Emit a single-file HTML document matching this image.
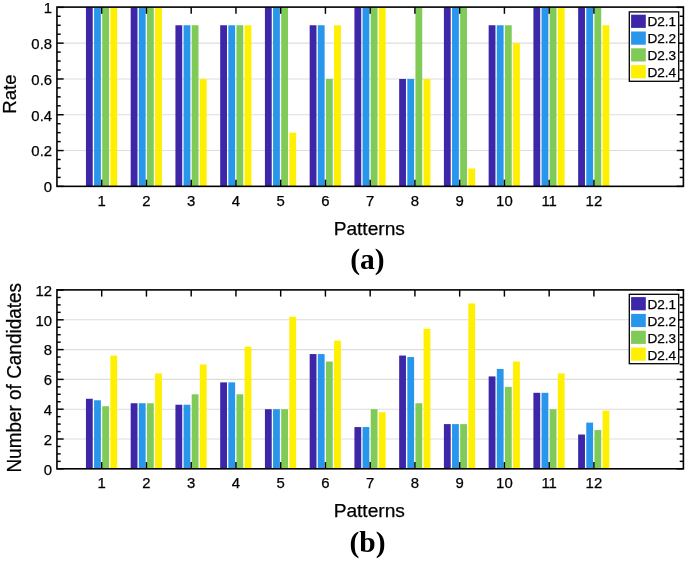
<!DOCTYPE html>
<html><head><meta charset="utf-8"><title>Figure</title>
<style>html,body{margin:0;padding:0;background:#fff;}svg{display:block;}text{font-family:"Liberation Sans",sans-serif;fill:#000;}</style>
</head><body>
<svg width="685" height="561" viewBox="0 0 685 561">
<rect width="685" height="561" fill="#fff"/>
<line x1="56.95" x2="683.4" y1="150.55" y2="150.55" stroke="#dddddd" stroke-width="1.1"/>
<line x1="56.95" x2="683.4" y1="114.75" y2="114.75" stroke="#dddddd" stroke-width="1.1"/>
<line x1="56.95" x2="683.4" y1="78.95" y2="78.95" stroke="#dddddd" stroke-width="1.1"/>
<line x1="56.95" x2="683.4" y1="43.15" y2="43.15" stroke="#dddddd" stroke-width="1.1"/>
<rect x="85.94" y="7.35" width="6.81" height="179.00" fill="#3E26A8"/>
<rect x="94.07" y="7.35" width="6.81" height="179.00" fill="#2796EB"/>
<rect x="102.21" y="7.35" width="6.81" height="179.00" fill="#80CB58"/>
<rect x="110.35" y="7.35" width="6.81" height="179.00" fill="#FFEF00"/>
<rect x="130.68" y="7.35" width="6.81" height="179.00" fill="#3E26A8"/>
<rect x="138.82" y="7.35" width="6.81" height="179.00" fill="#2796EB"/>
<rect x="146.96" y="7.35" width="6.81" height="179.00" fill="#80CB58"/>
<rect x="155.09" y="7.35" width="6.81" height="179.00" fill="#FFEF00"/>
<rect x="175.43" y="25.25" width="6.81" height="161.10" fill="#3E26A8"/>
<rect x="183.57" y="25.25" width="6.81" height="161.10" fill="#2796EB"/>
<rect x="191.70" y="25.25" width="6.81" height="161.10" fill="#80CB58"/>
<rect x="199.84" y="78.95" width="6.81" height="107.40" fill="#FFEF00"/>
<rect x="220.18" y="25.25" width="6.81" height="161.10" fill="#3E26A8"/>
<rect x="228.31" y="25.25" width="6.81" height="161.10" fill="#2796EB"/>
<rect x="236.45" y="25.25" width="6.81" height="161.10" fill="#80CB58"/>
<rect x="244.58" y="25.25" width="6.81" height="161.10" fill="#FFEF00"/>
<rect x="264.92" y="7.35" width="6.81" height="179.00" fill="#3E26A8"/>
<rect x="273.06" y="7.35" width="6.81" height="179.00" fill="#2796EB"/>
<rect x="281.20" y="7.35" width="6.81" height="179.00" fill="#80CB58"/>
<rect x="289.33" y="132.65" width="6.81" height="53.70" fill="#FFEF00"/>
<rect x="309.67" y="25.25" width="6.81" height="161.10" fill="#3E26A8"/>
<rect x="317.81" y="25.25" width="6.81" height="161.10" fill="#2796EB"/>
<rect x="325.94" y="78.95" width="6.81" height="107.40" fill="#80CB58"/>
<rect x="334.08" y="25.25" width="6.81" height="161.10" fill="#FFEF00"/>
<rect x="354.42" y="7.35" width="6.81" height="179.00" fill="#3E26A8"/>
<rect x="362.55" y="7.35" width="6.81" height="179.00" fill="#2796EB"/>
<rect x="370.69" y="7.35" width="6.81" height="179.00" fill="#80CB58"/>
<rect x="378.82" y="7.35" width="6.81" height="179.00" fill="#FFEF00"/>
<rect x="399.16" y="78.95" width="6.81" height="107.40" fill="#3E26A8"/>
<rect x="407.30" y="78.95" width="6.81" height="107.40" fill="#2796EB"/>
<rect x="415.43" y="7.35" width="6.81" height="179.00" fill="#80CB58"/>
<rect x="423.57" y="78.95" width="6.81" height="107.40" fill="#FFEF00"/>
<rect x="443.91" y="7.35" width="6.81" height="179.00" fill="#3E26A8"/>
<rect x="452.05" y="7.35" width="6.81" height="179.00" fill="#2796EB"/>
<rect x="460.18" y="7.35" width="6.81" height="179.00" fill="#80CB58"/>
<rect x="468.32" y="168.45" width="6.81" height="17.90" fill="#FFEF00"/>
<rect x="488.66" y="25.25" width="6.81" height="161.10" fill="#3E26A8"/>
<rect x="496.79" y="25.25" width="6.81" height="161.10" fill="#2796EB"/>
<rect x="504.93" y="25.25" width="6.81" height="161.10" fill="#80CB58"/>
<rect x="513.06" y="43.15" width="6.81" height="143.20" fill="#FFEF00"/>
<rect x="533.40" y="7.35" width="6.81" height="179.00" fill="#3E26A8"/>
<rect x="541.54" y="7.35" width="6.81" height="179.00" fill="#2796EB"/>
<rect x="549.67" y="7.35" width="6.81" height="179.00" fill="#80CB58"/>
<rect x="557.81" y="7.35" width="6.81" height="179.00" fill="#FFEF00"/>
<rect x="578.15" y="7.35" width="6.81" height="179.00" fill="#3E26A8"/>
<rect x="586.28" y="7.35" width="6.81" height="179.00" fill="#2796EB"/>
<rect x="594.42" y="7.35" width="6.81" height="179.00" fill="#80CB58"/>
<rect x="602.56" y="25.25" width="6.81" height="161.10" fill="#FFEF00"/>
<rect x="56.95" y="7.1" width="626.45" height="179.25" fill="none" stroke="#000" stroke-width="1.6"/>
<line x1="101.70" x2="101.70" y1="186.35" y2="179.65" stroke="#000" stroke-width="1.45"/>
<line x1="101.70" x2="101.70" y1="7.1" y2="13.80" stroke="#000" stroke-width="1.45"/>
<text x="101.70" y="205.75" text-anchor="middle" font-size="14.9" stroke="#000" stroke-width="0.25" >1</text>
<line x1="146.44" x2="146.44" y1="186.35" y2="179.65" stroke="#000" stroke-width="1.45"/>
<line x1="146.44" x2="146.44" y1="7.1" y2="13.80" stroke="#000" stroke-width="1.45"/>
<text x="146.44" y="205.75" text-anchor="middle" font-size="14.9" stroke="#000" stroke-width="0.25" >2</text>
<line x1="191.19" x2="191.19" y1="186.35" y2="179.65" stroke="#000" stroke-width="1.45"/>
<line x1="191.19" x2="191.19" y1="7.1" y2="13.80" stroke="#000" stroke-width="1.45"/>
<text x="191.19" y="205.75" text-anchor="middle" font-size="14.9" stroke="#000" stroke-width="0.25" >3</text>
<line x1="235.94" x2="235.94" y1="186.35" y2="179.65" stroke="#000" stroke-width="1.45"/>
<line x1="235.94" x2="235.94" y1="7.1" y2="13.80" stroke="#000" stroke-width="1.45"/>
<text x="235.94" y="205.75" text-anchor="middle" font-size="14.9" stroke="#000" stroke-width="0.25" >4</text>
<line x1="280.68" x2="280.68" y1="186.35" y2="179.65" stroke="#000" stroke-width="1.45"/>
<line x1="280.68" x2="280.68" y1="7.1" y2="13.80" stroke="#000" stroke-width="1.45"/>
<text x="280.68" y="205.75" text-anchor="middle" font-size="14.9" stroke="#000" stroke-width="0.25" >5</text>
<line x1="325.43" x2="325.43" y1="186.35" y2="179.65" stroke="#000" stroke-width="1.45"/>
<line x1="325.43" x2="325.43" y1="7.1" y2="13.80" stroke="#000" stroke-width="1.45"/>
<text x="325.43" y="205.75" text-anchor="middle" font-size="14.9" stroke="#000" stroke-width="0.25" >6</text>
<line x1="370.17" x2="370.17" y1="186.35" y2="179.65" stroke="#000" stroke-width="1.45"/>
<line x1="370.17" x2="370.17" y1="7.1" y2="13.80" stroke="#000" stroke-width="1.45"/>
<text x="370.17" y="205.75" text-anchor="middle" font-size="14.9" stroke="#000" stroke-width="0.25" >7</text>
<line x1="414.92" x2="414.92" y1="186.35" y2="179.65" stroke="#000" stroke-width="1.45"/>
<line x1="414.92" x2="414.92" y1="7.1" y2="13.80" stroke="#000" stroke-width="1.45"/>
<text x="414.92" y="205.75" text-anchor="middle" font-size="14.9" stroke="#000" stroke-width="0.25" >8</text>
<line x1="459.67" x2="459.67" y1="186.35" y2="179.65" stroke="#000" stroke-width="1.45"/>
<line x1="459.67" x2="459.67" y1="7.1" y2="13.80" stroke="#000" stroke-width="1.45"/>
<text x="459.67" y="205.75" text-anchor="middle" font-size="14.9" stroke="#000" stroke-width="0.25" >9</text>
<line x1="504.41" x2="504.41" y1="186.35" y2="179.65" stroke="#000" stroke-width="1.45"/>
<line x1="504.41" x2="504.41" y1="7.1" y2="13.80" stroke="#000" stroke-width="1.45"/>
<text x="504.41" y="205.75" text-anchor="middle" font-size="14.9" stroke="#000" stroke-width="0.25" >10</text>
<line x1="549.16" x2="549.16" y1="186.35" y2="179.65" stroke="#000" stroke-width="1.45"/>
<line x1="549.16" x2="549.16" y1="7.1" y2="13.80" stroke="#000" stroke-width="1.45"/>
<text x="549.16" y="205.75" text-anchor="middle" font-size="14.9" stroke="#000" stroke-width="0.25" >11</text>
<line x1="593.91" x2="593.91" y1="186.35" y2="179.65" stroke="#000" stroke-width="1.45"/>
<line x1="593.91" x2="593.91" y1="7.1" y2="13.80" stroke="#000" stroke-width="1.45"/>
<text x="593.91" y="205.75" text-anchor="middle" font-size="14.9" stroke="#000" stroke-width="0.25" >12</text>
<line x1="56.95" x2="63.65" y1="186.35" y2="186.35" stroke="#000" stroke-width="1.45"/>
<line x1="683.4" x2="676.70" y1="186.35" y2="186.35" stroke="#000" stroke-width="1.45"/>
<text x="52.05" y="192.15" text-anchor="end" font-size="14.9" stroke="#000" stroke-width="0.25" >0</text>
<line x1="56.95" x2="60.65" y1="177.40" y2="177.40" stroke="#000" stroke-width="1.45"/>
<line x1="683.4" x2="679.70" y1="177.40" y2="177.40" stroke="#000" stroke-width="1.45"/>
<line x1="56.95" x2="60.65" y1="168.45" y2="168.45" stroke="#000" stroke-width="1.45"/>
<line x1="683.4" x2="679.70" y1="168.45" y2="168.45" stroke="#000" stroke-width="1.45"/>
<line x1="56.95" x2="60.65" y1="159.50" y2="159.50" stroke="#000" stroke-width="1.45"/>
<line x1="683.4" x2="679.70" y1="159.50" y2="159.50" stroke="#000" stroke-width="1.45"/>
<line x1="56.95" x2="63.65" y1="150.55" y2="150.55" stroke="#000" stroke-width="1.45"/>
<line x1="683.4" x2="676.70" y1="150.55" y2="150.55" stroke="#000" stroke-width="1.45"/>
<text x="52.05" y="156.35" text-anchor="end" font-size="14.9" stroke="#000" stroke-width="0.25" >0.2</text>
<line x1="56.95" x2="60.65" y1="141.60" y2="141.60" stroke="#000" stroke-width="1.45"/>
<line x1="683.4" x2="679.70" y1="141.60" y2="141.60" stroke="#000" stroke-width="1.45"/>
<line x1="56.95" x2="60.65" y1="132.65" y2="132.65" stroke="#000" stroke-width="1.45"/>
<line x1="683.4" x2="679.70" y1="132.65" y2="132.65" stroke="#000" stroke-width="1.45"/>
<line x1="56.95" x2="60.65" y1="123.70" y2="123.70" stroke="#000" stroke-width="1.45"/>
<line x1="683.4" x2="679.70" y1="123.70" y2="123.70" stroke="#000" stroke-width="1.45"/>
<line x1="56.95" x2="63.65" y1="114.75" y2="114.75" stroke="#000" stroke-width="1.45"/>
<line x1="683.4" x2="676.70" y1="114.75" y2="114.75" stroke="#000" stroke-width="1.45"/>
<text x="52.05" y="120.55" text-anchor="end" font-size="14.9" stroke="#000" stroke-width="0.25" >0.4</text>
<line x1="56.95" x2="60.65" y1="105.80" y2="105.80" stroke="#000" stroke-width="1.45"/>
<line x1="683.4" x2="679.70" y1="105.80" y2="105.80" stroke="#000" stroke-width="1.45"/>
<line x1="56.95" x2="60.65" y1="96.85" y2="96.85" stroke="#000" stroke-width="1.45"/>
<line x1="683.4" x2="679.70" y1="96.85" y2="96.85" stroke="#000" stroke-width="1.45"/>
<line x1="56.95" x2="60.65" y1="87.90" y2="87.90" stroke="#000" stroke-width="1.45"/>
<line x1="683.4" x2="679.70" y1="87.90" y2="87.90" stroke="#000" stroke-width="1.45"/>
<line x1="56.95" x2="63.65" y1="78.95" y2="78.95" stroke="#000" stroke-width="1.45"/>
<line x1="683.4" x2="676.70" y1="78.95" y2="78.95" stroke="#000" stroke-width="1.45"/>
<text x="52.05" y="84.75" text-anchor="end" font-size="14.9" stroke="#000" stroke-width="0.25" >0.6</text>
<line x1="56.95" x2="60.65" y1="70.00" y2="70.00" stroke="#000" stroke-width="1.45"/>
<line x1="683.4" x2="679.70" y1="70.00" y2="70.00" stroke="#000" stroke-width="1.45"/>
<line x1="56.95" x2="60.65" y1="61.05" y2="61.05" stroke="#000" stroke-width="1.45"/>
<line x1="683.4" x2="679.70" y1="61.05" y2="61.05" stroke="#000" stroke-width="1.45"/>
<line x1="56.95" x2="60.65" y1="52.10" y2="52.10" stroke="#000" stroke-width="1.45"/>
<line x1="683.4" x2="679.70" y1="52.10" y2="52.10" stroke="#000" stroke-width="1.45"/>
<line x1="56.95" x2="63.65" y1="43.15" y2="43.15" stroke="#000" stroke-width="1.45"/>
<line x1="683.4" x2="676.70" y1="43.15" y2="43.15" stroke="#000" stroke-width="1.45"/>
<text x="52.05" y="48.95" text-anchor="end" font-size="14.9" stroke="#000" stroke-width="0.25" >0.8</text>
<line x1="56.95" x2="60.65" y1="34.20" y2="34.20" stroke="#000" stroke-width="1.45"/>
<line x1="683.4" x2="679.70" y1="34.20" y2="34.20" stroke="#000" stroke-width="1.45"/>
<line x1="56.95" x2="60.65" y1="25.25" y2="25.25" stroke="#000" stroke-width="1.45"/>
<line x1="683.4" x2="679.70" y1="25.25" y2="25.25" stroke="#000" stroke-width="1.45"/>
<line x1="56.95" x2="60.65" y1="16.30" y2="16.30" stroke="#000" stroke-width="1.45"/>
<line x1="683.4" x2="679.70" y1="16.30" y2="16.30" stroke="#000" stroke-width="1.45"/>
<line x1="56.95" x2="63.65" y1="7.35" y2="7.35" stroke="#000" stroke-width="1.45"/>
<line x1="683.4" x2="676.70" y1="7.35" y2="7.35" stroke="#000" stroke-width="1.45"/>
<text x="52.05" y="13.15" text-anchor="end" font-size="14.9" stroke="#000" stroke-width="0.25" >1</text>
<rect x="629.3" y="11.9" width="49.4" height="69.4" fill="#fff" stroke="#000" stroke-width="1.3"/>
<rect x="631.1" y="14.70" width="14.7" height="13.2" fill="#3E26A8"/>
<text x="647.40" y="26.00" text-anchor="start" font-size="13.6" stroke="#000" stroke-width="0.25" >D2.1</text>
<rect x="631.1" y="31.50" width="14.7" height="13.2" fill="#2796EB"/>
<text x="647.40" y="42.95" text-anchor="start" font-size="13.6" stroke="#000" stroke-width="0.25" >D2.2</text>
<rect x="631.1" y="48.30" width="14.7" height="13.2" fill="#80CB58"/>
<text x="647.40" y="59.90" text-anchor="start" font-size="13.6" stroke="#000" stroke-width="0.25" >D2.3</text>
<rect x="631.1" y="65.10" width="14.7" height="13.2" fill="#FFEF00"/>
<text x="647.40" y="76.85" text-anchor="start" font-size="13.6" stroke="#000" stroke-width="0.25" >D2.4</text>
<text x="369.28" y="234.60" text-anchor="middle" font-size="19.15" stroke="#000" stroke-width="0.25" >Patterns</text>
<text transform="translate(16.0,94.1) rotate(-90) scale(1,1)" text-anchor="middle" font-size="18.65" stroke="#000" stroke-width="0.25">Rate</text>
<text x="367.48" y="269.0" text-anchor="middle" font-size="29.5" style="font-family:'Liberation Serif',serif;font-weight:bold">(a)</text>
<line x1="56.95" x2="683.4" y1="439.00" y2="439.00" stroke="#dddddd" stroke-width="1.1"/>
<line x1="56.95" x2="683.4" y1="409.20" y2="409.20" stroke="#dddddd" stroke-width="1.1"/>
<line x1="56.95" x2="683.4" y1="379.40" y2="379.40" stroke="#dddddd" stroke-width="1.1"/>
<line x1="56.95" x2="683.4" y1="349.60" y2="349.60" stroke="#dddddd" stroke-width="1.1"/>
<line x1="56.95" x2="683.4" y1="319.80" y2="319.80" stroke="#dddddd" stroke-width="1.1"/>
<rect x="85.94" y="398.77" width="6.81" height="70.03" fill="#3E26A8"/>
<rect x="94.07" y="400.26" width="6.81" height="68.54" fill="#2796EB"/>
<rect x="102.21" y="406.22" width="6.81" height="62.58" fill="#80CB58"/>
<rect x="110.35" y="355.56" width="6.81" height="113.24" fill="#FFEF00"/>
<rect x="130.68" y="403.24" width="6.81" height="65.56" fill="#3E26A8"/>
<rect x="138.82" y="403.24" width="6.81" height="65.56" fill="#2796EB"/>
<rect x="146.96" y="403.24" width="6.81" height="65.56" fill="#80CB58"/>
<rect x="155.09" y="373.44" width="6.81" height="95.36" fill="#FFEF00"/>
<rect x="175.43" y="404.73" width="6.81" height="64.07" fill="#3E26A8"/>
<rect x="183.57" y="404.73" width="6.81" height="64.07" fill="#2796EB"/>
<rect x="191.70" y="394.30" width="6.81" height="74.50" fill="#80CB58"/>
<rect x="199.84" y="364.50" width="6.81" height="104.30" fill="#FFEF00"/>
<rect x="220.18" y="382.38" width="6.81" height="86.42" fill="#3E26A8"/>
<rect x="228.31" y="382.38" width="6.81" height="86.42" fill="#2796EB"/>
<rect x="236.45" y="394.30" width="6.81" height="74.50" fill="#80CB58"/>
<rect x="244.58" y="346.62" width="6.81" height="122.18" fill="#FFEF00"/>
<rect x="264.92" y="409.20" width="6.81" height="59.60" fill="#3E26A8"/>
<rect x="273.06" y="409.20" width="6.81" height="59.60" fill="#2796EB"/>
<rect x="281.20" y="409.20" width="6.81" height="59.60" fill="#80CB58"/>
<rect x="289.33" y="316.82" width="6.81" height="151.98" fill="#FFEF00"/>
<rect x="309.67" y="354.07" width="6.81" height="114.73" fill="#3E26A8"/>
<rect x="317.81" y="354.07" width="6.81" height="114.73" fill="#2796EB"/>
<rect x="325.94" y="361.52" width="6.81" height="107.28" fill="#80CB58"/>
<rect x="334.08" y="340.66" width="6.81" height="128.14" fill="#FFEF00"/>
<rect x="354.42" y="427.08" width="6.81" height="41.72" fill="#3E26A8"/>
<rect x="362.55" y="427.08" width="6.81" height="41.72" fill="#2796EB"/>
<rect x="370.69" y="409.20" width="6.81" height="59.60" fill="#80CB58"/>
<rect x="378.82" y="412.18" width="6.81" height="56.62" fill="#FFEF00"/>
<rect x="399.16" y="355.56" width="6.81" height="113.24" fill="#3E26A8"/>
<rect x="407.30" y="357.05" width="6.81" height="111.75" fill="#2796EB"/>
<rect x="415.43" y="403.24" width="6.81" height="65.56" fill="#80CB58"/>
<rect x="423.57" y="328.74" width="6.81" height="140.06" fill="#FFEF00"/>
<rect x="443.91" y="424.10" width="6.81" height="44.70" fill="#3E26A8"/>
<rect x="452.05" y="424.10" width="6.81" height="44.70" fill="#2796EB"/>
<rect x="460.18" y="424.10" width="6.81" height="44.70" fill="#80CB58"/>
<rect x="468.32" y="303.41" width="6.81" height="165.39" fill="#FFEF00"/>
<rect x="488.66" y="376.42" width="6.81" height="92.38" fill="#3E26A8"/>
<rect x="496.79" y="368.97" width="6.81" height="99.83" fill="#2796EB"/>
<rect x="504.93" y="386.85" width="6.81" height="81.95" fill="#80CB58"/>
<rect x="513.06" y="361.52" width="6.81" height="107.28" fill="#FFEF00"/>
<rect x="533.40" y="392.81" width="6.81" height="75.99" fill="#3E26A8"/>
<rect x="541.54" y="392.81" width="6.81" height="75.99" fill="#2796EB"/>
<rect x="549.67" y="409.20" width="6.81" height="59.60" fill="#80CB58"/>
<rect x="557.81" y="373.44" width="6.81" height="95.36" fill="#FFEF00"/>
<rect x="578.15" y="434.53" width="6.81" height="34.27" fill="#3E26A8"/>
<rect x="586.28" y="422.61" width="6.81" height="46.19" fill="#2796EB"/>
<rect x="594.42" y="430.06" width="6.81" height="38.74" fill="#80CB58"/>
<rect x="602.56" y="410.69" width="6.81" height="58.11" fill="#FFEF00"/>
<rect x="56.95" y="289.9" width="626.45" height="178.90" fill="none" stroke="#000" stroke-width="1.6"/>
<line x1="101.70" x2="101.70" y1="468.8" y2="462.10" stroke="#000" stroke-width="1.45"/>
<line x1="101.70" x2="101.70" y1="289.9" y2="296.60" stroke="#000" stroke-width="1.45"/>
<text x="101.70" y="488.20" text-anchor="middle" font-size="14.9" stroke="#000" stroke-width="0.25" >1</text>
<line x1="146.44" x2="146.44" y1="468.8" y2="462.10" stroke="#000" stroke-width="1.45"/>
<line x1="146.44" x2="146.44" y1="289.9" y2="296.60" stroke="#000" stroke-width="1.45"/>
<text x="146.44" y="488.20" text-anchor="middle" font-size="14.9" stroke="#000" stroke-width="0.25" >2</text>
<line x1="191.19" x2="191.19" y1="468.8" y2="462.10" stroke="#000" stroke-width="1.45"/>
<line x1="191.19" x2="191.19" y1="289.9" y2="296.60" stroke="#000" stroke-width="1.45"/>
<text x="191.19" y="488.20" text-anchor="middle" font-size="14.9" stroke="#000" stroke-width="0.25" >3</text>
<line x1="235.94" x2="235.94" y1="468.8" y2="462.10" stroke="#000" stroke-width="1.45"/>
<line x1="235.94" x2="235.94" y1="289.9" y2="296.60" stroke="#000" stroke-width="1.45"/>
<text x="235.94" y="488.20" text-anchor="middle" font-size="14.9" stroke="#000" stroke-width="0.25" >4</text>
<line x1="280.68" x2="280.68" y1="468.8" y2="462.10" stroke="#000" stroke-width="1.45"/>
<line x1="280.68" x2="280.68" y1="289.9" y2="296.60" stroke="#000" stroke-width="1.45"/>
<text x="280.68" y="488.20" text-anchor="middle" font-size="14.9" stroke="#000" stroke-width="0.25" >5</text>
<line x1="325.43" x2="325.43" y1="468.8" y2="462.10" stroke="#000" stroke-width="1.45"/>
<line x1="325.43" x2="325.43" y1="289.9" y2="296.60" stroke="#000" stroke-width="1.45"/>
<text x="325.43" y="488.20" text-anchor="middle" font-size="14.9" stroke="#000" stroke-width="0.25" >6</text>
<line x1="370.17" x2="370.17" y1="468.8" y2="462.10" stroke="#000" stroke-width="1.45"/>
<line x1="370.17" x2="370.17" y1="289.9" y2="296.60" stroke="#000" stroke-width="1.45"/>
<text x="370.17" y="488.20" text-anchor="middle" font-size="14.9" stroke="#000" stroke-width="0.25" >7</text>
<line x1="414.92" x2="414.92" y1="468.8" y2="462.10" stroke="#000" stroke-width="1.45"/>
<line x1="414.92" x2="414.92" y1="289.9" y2="296.60" stroke="#000" stroke-width="1.45"/>
<text x="414.92" y="488.20" text-anchor="middle" font-size="14.9" stroke="#000" stroke-width="0.25" >8</text>
<line x1="459.67" x2="459.67" y1="468.8" y2="462.10" stroke="#000" stroke-width="1.45"/>
<line x1="459.67" x2="459.67" y1="289.9" y2="296.60" stroke="#000" stroke-width="1.45"/>
<text x="459.67" y="488.20" text-anchor="middle" font-size="14.9" stroke="#000" stroke-width="0.25" >9</text>
<line x1="504.41" x2="504.41" y1="468.8" y2="462.10" stroke="#000" stroke-width="1.45"/>
<line x1="504.41" x2="504.41" y1="289.9" y2="296.60" stroke="#000" stroke-width="1.45"/>
<text x="504.41" y="488.20" text-anchor="middle" font-size="14.9" stroke="#000" stroke-width="0.25" >10</text>
<line x1="549.16" x2="549.16" y1="468.8" y2="462.10" stroke="#000" stroke-width="1.45"/>
<line x1="549.16" x2="549.16" y1="289.9" y2="296.60" stroke="#000" stroke-width="1.45"/>
<text x="549.16" y="488.20" text-anchor="middle" font-size="14.9" stroke="#000" stroke-width="0.25" >11</text>
<line x1="593.91" x2="593.91" y1="468.8" y2="462.10" stroke="#000" stroke-width="1.45"/>
<line x1="593.91" x2="593.91" y1="289.9" y2="296.60" stroke="#000" stroke-width="1.45"/>
<text x="593.91" y="488.20" text-anchor="middle" font-size="14.9" stroke="#000" stroke-width="0.25" >12</text>
<line x1="56.95" x2="63.65" y1="468.80" y2="468.80" stroke="#000" stroke-width="1.45"/>
<line x1="683.4" x2="676.70" y1="468.80" y2="468.80" stroke="#000" stroke-width="1.45"/>
<text x="52.05" y="474.60" text-anchor="end" font-size="14.9" stroke="#000" stroke-width="0.25" >0</text>
<line x1="56.95" x2="60.65" y1="461.35" y2="461.35" stroke="#000" stroke-width="1.45"/>
<line x1="683.4" x2="679.70" y1="461.35" y2="461.35" stroke="#000" stroke-width="1.45"/>
<line x1="56.95" x2="60.65" y1="453.90" y2="453.90" stroke="#000" stroke-width="1.45"/>
<line x1="683.4" x2="679.70" y1="453.90" y2="453.90" stroke="#000" stroke-width="1.45"/>
<line x1="56.95" x2="60.65" y1="446.45" y2="446.45" stroke="#000" stroke-width="1.45"/>
<line x1="683.4" x2="679.70" y1="446.45" y2="446.45" stroke="#000" stroke-width="1.45"/>
<line x1="56.95" x2="63.65" y1="439.00" y2="439.00" stroke="#000" stroke-width="1.45"/>
<line x1="683.4" x2="676.70" y1="439.00" y2="439.00" stroke="#000" stroke-width="1.45"/>
<text x="52.05" y="444.80" text-anchor="end" font-size="14.9" stroke="#000" stroke-width="0.25" >2</text>
<line x1="56.95" x2="60.65" y1="431.55" y2="431.55" stroke="#000" stroke-width="1.45"/>
<line x1="683.4" x2="679.70" y1="431.55" y2="431.55" stroke="#000" stroke-width="1.45"/>
<line x1="56.95" x2="60.65" y1="424.10" y2="424.10" stroke="#000" stroke-width="1.45"/>
<line x1="683.4" x2="679.70" y1="424.10" y2="424.10" stroke="#000" stroke-width="1.45"/>
<line x1="56.95" x2="60.65" y1="416.65" y2="416.65" stroke="#000" stroke-width="1.45"/>
<line x1="683.4" x2="679.70" y1="416.65" y2="416.65" stroke="#000" stroke-width="1.45"/>
<line x1="56.95" x2="63.65" y1="409.20" y2="409.20" stroke="#000" stroke-width="1.45"/>
<line x1="683.4" x2="676.70" y1="409.20" y2="409.20" stroke="#000" stroke-width="1.45"/>
<text x="52.05" y="415.00" text-anchor="end" font-size="14.9" stroke="#000" stroke-width="0.25" >4</text>
<line x1="56.95" x2="60.65" y1="401.75" y2="401.75" stroke="#000" stroke-width="1.45"/>
<line x1="683.4" x2="679.70" y1="401.75" y2="401.75" stroke="#000" stroke-width="1.45"/>
<line x1="56.95" x2="60.65" y1="394.30" y2="394.30" stroke="#000" stroke-width="1.45"/>
<line x1="683.4" x2="679.70" y1="394.30" y2="394.30" stroke="#000" stroke-width="1.45"/>
<line x1="56.95" x2="60.65" y1="386.85" y2="386.85" stroke="#000" stroke-width="1.45"/>
<line x1="683.4" x2="679.70" y1="386.85" y2="386.85" stroke="#000" stroke-width="1.45"/>
<line x1="56.95" x2="63.65" y1="379.40" y2="379.40" stroke="#000" stroke-width="1.45"/>
<line x1="683.4" x2="676.70" y1="379.40" y2="379.40" stroke="#000" stroke-width="1.45"/>
<text x="52.05" y="385.20" text-anchor="end" font-size="14.9" stroke="#000" stroke-width="0.25" >6</text>
<line x1="56.95" x2="60.65" y1="371.95" y2="371.95" stroke="#000" stroke-width="1.45"/>
<line x1="683.4" x2="679.70" y1="371.95" y2="371.95" stroke="#000" stroke-width="1.45"/>
<line x1="56.95" x2="60.65" y1="364.50" y2="364.50" stroke="#000" stroke-width="1.45"/>
<line x1="683.4" x2="679.70" y1="364.50" y2="364.50" stroke="#000" stroke-width="1.45"/>
<line x1="56.95" x2="60.65" y1="357.05" y2="357.05" stroke="#000" stroke-width="1.45"/>
<line x1="683.4" x2="679.70" y1="357.05" y2="357.05" stroke="#000" stroke-width="1.45"/>
<line x1="56.95" x2="63.65" y1="349.60" y2="349.60" stroke="#000" stroke-width="1.45"/>
<line x1="683.4" x2="676.70" y1="349.60" y2="349.60" stroke="#000" stroke-width="1.45"/>
<text x="52.05" y="355.40" text-anchor="end" font-size="14.9" stroke="#000" stroke-width="0.25" >8</text>
<line x1="56.95" x2="60.65" y1="342.15" y2="342.15" stroke="#000" stroke-width="1.45"/>
<line x1="683.4" x2="679.70" y1="342.15" y2="342.15" stroke="#000" stroke-width="1.45"/>
<line x1="56.95" x2="60.65" y1="334.70" y2="334.70" stroke="#000" stroke-width="1.45"/>
<line x1="683.4" x2="679.70" y1="334.70" y2="334.70" stroke="#000" stroke-width="1.45"/>
<line x1="56.95" x2="60.65" y1="327.25" y2="327.25" stroke="#000" stroke-width="1.45"/>
<line x1="683.4" x2="679.70" y1="327.25" y2="327.25" stroke="#000" stroke-width="1.45"/>
<line x1="56.95" x2="63.65" y1="319.80" y2="319.80" stroke="#000" stroke-width="1.45"/>
<line x1="683.4" x2="676.70" y1="319.80" y2="319.80" stroke="#000" stroke-width="1.45"/>
<text x="52.05" y="325.60" text-anchor="end" font-size="14.9" stroke="#000" stroke-width="0.25" >10</text>
<line x1="56.95" x2="60.65" y1="312.35" y2="312.35" stroke="#000" stroke-width="1.45"/>
<line x1="683.4" x2="679.70" y1="312.35" y2="312.35" stroke="#000" stroke-width="1.45"/>
<line x1="56.95" x2="60.65" y1="304.90" y2="304.90" stroke="#000" stroke-width="1.45"/>
<line x1="683.4" x2="679.70" y1="304.90" y2="304.90" stroke="#000" stroke-width="1.45"/>
<line x1="56.95" x2="60.65" y1="297.45" y2="297.45" stroke="#000" stroke-width="1.45"/>
<line x1="683.4" x2="679.70" y1="297.45" y2="297.45" stroke="#000" stroke-width="1.45"/>
<line x1="56.95" x2="63.65" y1="290.00" y2="290.00" stroke="#000" stroke-width="1.45"/>
<line x1="683.4" x2="676.70" y1="290.00" y2="290.00" stroke="#000" stroke-width="1.45"/>
<text x="52.05" y="295.80" text-anchor="end" font-size="14.9" stroke="#000" stroke-width="0.25" >12</text>
<rect x="629.3" y="294.3" width="49.4" height="69.4" fill="#fff" stroke="#000" stroke-width="1.3"/>
<rect x="631.1" y="297.10" width="14.7" height="13.2" fill="#3E26A8"/>
<text x="647.40" y="308.80" text-anchor="start" font-size="13.6" stroke="#000" stroke-width="0.25" >D2.1</text>
<rect x="631.1" y="313.90" width="14.7" height="13.2" fill="#2796EB"/>
<text x="647.40" y="325.75" text-anchor="start" font-size="13.6" stroke="#000" stroke-width="0.25" >D2.2</text>
<rect x="631.1" y="330.70" width="14.7" height="13.2" fill="#80CB58"/>
<text x="647.40" y="342.70" text-anchor="start" font-size="13.6" stroke="#000" stroke-width="0.25" >D2.3</text>
<rect x="631.1" y="347.50" width="14.7" height="13.2" fill="#FFEF00"/>
<text x="647.40" y="359.65" text-anchor="start" font-size="13.6" stroke="#000" stroke-width="0.25" >D2.4</text>
<text x="369.28" y="516.65" text-anchor="middle" font-size="19.15" stroke="#000" stroke-width="0.25" >Patterns</text>
<text transform="translate(20.7,377.8) rotate(-90) scale(1,1.085)" text-anchor="middle" font-size="18.95" stroke="#000" stroke-width="0.25">Number of Candidates</text>
<text x="367.48" y="551.6" text-anchor="middle" font-size="29.5" style="font-family:'Liberation Serif',serif;font-weight:bold">(b)</text>
</svg>
</body></html>
